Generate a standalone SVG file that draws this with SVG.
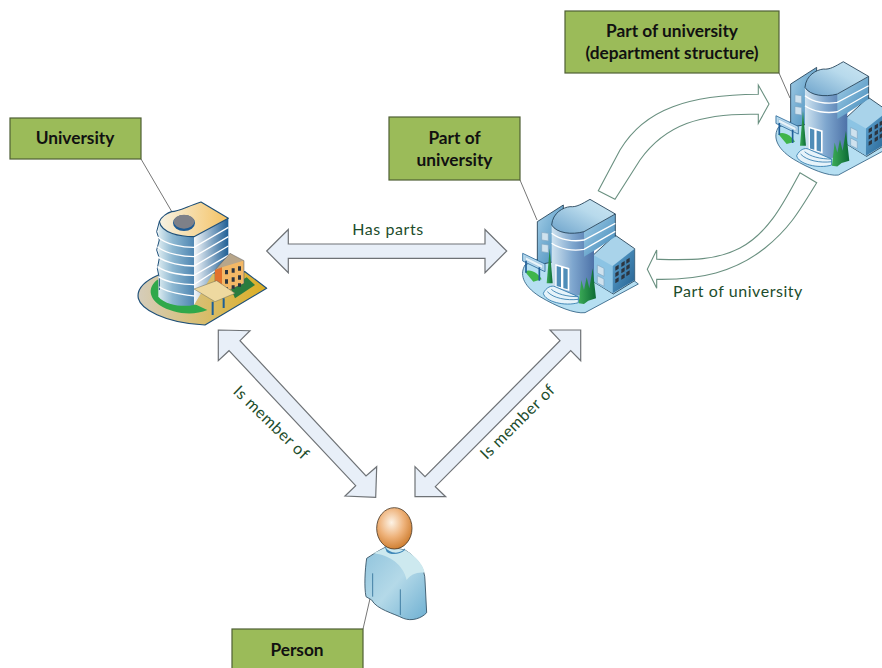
<svg xmlns="http://www.w3.org/2000/svg" width="882" height="668" viewBox="0 0 882 668">
<style>
.box{fill:#9bbb59;stroke:#4f5f35;stroke-width:1.2}
.bl{font:700 17.300px Lato,"Liberation Sans",sans-serif;fill:#111;text-anchor:middle}
.cl{font:400 16px Lato,"Liberation Sans",sans-serif;fill:#1d4d2c;text-anchor:middle;letter-spacing:.55px}
.lead{stroke:#666;stroke-width:.9;fill:none}
.dbl{fill:#e8eff8;stroke:#6e7276;stroke-width:1.2;stroke-linejoin:miter}
.cur{fill:#fff;stroke:#6a9080;stroke-width:1.1}
.wh{fill:none;stroke:#fff;stroke-width:4}
.edge{stroke:#1e4f78;stroke-width:3.500;stroke-linejoin:round}
.edgek{stroke:#223f55;stroke-width:2.600;stroke-linejoin:round}
.dk{fill:#2c3540}
</style>
<defs>
<linearGradient id="gCyl" x1="0" x2="1" y1="0" y2="0"><stop offset="0" stop-color="#dcebf0"/><stop offset=".4" stop-color="#8db8d2"/><stop offset="1" stop-color="#4f86b2"/></linearGradient>
<linearGradient id="gTopU" x1="0" x2="1" y1="0" y2="0"><stop offset="0" stop-color="#f6f2e4"/><stop offset="1" stop-color="#f5c262"/></linearGradient>
<linearGradient id="gFaceU" x1="0" x2="1" y1="0" y2="0"><stop offset="0" stop-color="#f4f7fa"/><stop offset="1" stop-color="#1f5f95"/></linearGradient>
<linearGradient id="gBaseU" x1="0" x2="1" y1="0" y2="0"><stop offset="0" stop-color="#d5cdbb"/><stop offset="1" stop-color="#dcae22"/></linearGradient>
<linearGradient id="gTopB" x1="0" x2="1" y1="1" y2="0"><stop offset="0" stop-color="#6da3cb"/><stop offset=".6" stop-color="#b8daec"/><stop offset="1" stop-color="#cde6f2"/></linearGradient>
<linearGradient id="gCylB" x1="0" x2="1" y1="0" y2="0"><stop offset="0" stop-color="#cfe3f0"/><stop offset=".5" stop-color="#7ea6ce"/><stop offset="1" stop-color="#4d72a8"/></linearGradient>
<linearGradient id="gFaceB" x1="0" x2="1" y1="0" y2="1"><stop offset="0" stop-color="#a6d0e8"/><stop offset="1" stop-color="#3d86b8"/></linearGradient>
<linearGradient id="gWingR" x1="0" x2="1" y1="0" y2="1"><stop offset="0" stop-color="#5fa6d2"/><stop offset="1" stop-color="#235f8f"/></linearGradient>
<linearGradient id="gTree" x1="0" x2="1" y1="0" y2="0"><stop offset="0" stop-color="#3cab57"/><stop offset="1" stop-color="#0b6a35"/></linearGradient>
<radialGradient id="gHead" cx=".42" cy=".36" r=".65"><stop offset="0" stop-color="#fdf3e6"/><stop offset=".55" stop-color="#eeb27a"/><stop offset="1" stop-color="#cf7f32"/></radialGradient>
<linearGradient id="gBody" x1="0" x2="1" y1="0" y2="1"><stop offset="0" stop-color="#8fc3dc"/><stop offset=".5" stop-color="#b4d9e8"/><stop offset="1" stop-color="#6fb0d2"/></linearGradient>
<g id="office">
<path d="M45,225C30,250 35,285 90,320C140,350 195,372 225,368L385,282L330,240L100,200Z" fill="#b6dff2" stroke="#26587c" stroke-width="2.400"/>
<path d="M82,95L160,45L160,210L82,225Z" fill="url(#gFaceB)" class="edgek"/>
<path d="M95,127l20,3v23l-20,-3ZM95,162l20,3v23l-20,-3Z" fill="#cfe2ee" stroke="#7fa6c2" stroke-width="2"/>
<path d="M250,195L315,135L374,176V272L310,312L250,275Z" fill="#a9d3ea" class="edgek"/>
<path d="M250,195L308,228V310L250,275Z" fill="#8cc4e4"/>
<path d="M308,228L373,177V271L308,310Z" fill="url(#gWingR)"/>
<path d="M262,225l20,10v24l-20,-10ZM262,257l20,10v22l-20,-10Z" fill="#cfe2ee" stroke="#7fa6c2" stroke-width="2"/>
<path class="dk" d="M316,230l10,-6v12l-10,6ZM334,219l10,-6v12l-10,6ZM349,209l10,-6v12l-10,6ZM316,249l10,-6v12l-10,6ZM334,238l10,-6v12l-10,6ZM349,228l10,-6v12l-10,6ZM316,268l10,-6v12l-10,6ZM334,257l10,-6v12l-10,6ZM349,247l10,-6v12l-10,6Z"/>
<path d="M125,105V295C155,315 200,322 222,312L252,285V180L222,125Z" fill="url(#gCylB)"/>
<path d="M222,125L316,72V140L252,182L222,200Z" fill="url(#gFaceB)"/>
<path d="M125,105C128,68 160,52 180,50C200,52 215,42 240,28L316,72L222,125C185,135 140,130 125,105Z" fill="url(#gTopB)" class="edgek"/>
<path d="M316,72V140" stroke="#223f55" stroke-width="2.600" fill="none"/>
<path class="wh" d="M125,130C150,150 190,156 222,150L316,100M125,160C150,178 190,184 222,178L316,124"/>
<path d="M136,222L178,234V303L136,290Z" fill="#fff"/>
<path d="M140,228L153,232V292L140,288ZM160,234L173,238V298L160,294Z" fill="#4f8db8"/>
<path d="M100,310C108,292 125,285 135,290L205,320V338C165,350 105,335 100,310Z" fill="#e6f3fa" stroke="#2b78ac" stroke-width="2.500"/>
<path d="M112,305C130,325 170,332 205,328M124,298C140,312 170,320 205,320" fill="none" stroke="#2b78ac" stroke-width="2.500"/>
<path d="M110,280L119,175L128,280Z" fill="url(#gTree)"/>
<path d="M206,340L214,270L222,300L230,262L238,295L248,235L258,325L235,332L222,342Z" fill="url(#gTree)"/>
<path d="M45,245C60,235 85,250 95,268L70,275Z" fill="#3fb54a"/>
<path d="M38,190L105,222V245L38,213Z" fill="#b6d9ee" stroke="#2b6a9a" stroke-width="2.500"/>
<path d="M46,200L98,226V236L46,210Z" fill="#e8f3f9" stroke="#7fb0d0" stroke-width="1.500"/>
<path d="M48,212V248M88,232V272" stroke="#1f5f99" stroke-width="5" fill="none"/>
</g>
</defs>
<rect width="882" height="668" fill="#fff"/>
<g id="connectors">
<path class="lead" d="M141,159L172,212M520,180L537,220M779,73L790,98M363,629L372,590"/>
<path id="has-parts" class="dbl" d="M266.700,251L288.300,229.500V244H485V229.500L506.700,251L485,272.700V258.300H288.300V272.700Z"/>
<path id="member-left" class="dbl" d="M218.300,330L250,330.700L240,340.700L366,476L376.700,466.700L375.700,497.300L345,496L355.700,485.700L229,350.700L218.300,360.700Z"/>
<path id="member-right" class="dbl" d="M580.700,330H550L560,340.700L425,476.700L415,466.700V496.700H445.700L435.300,486.700L570.700,350.700L580.700,360.700Z"/>
<path id="curve-up" class="cur" d="M598.300,190.700L620,150C645,108 690,95 758.300,94.300V85L769,104L758.300,123.300V114.300C700,113 665,125 640,160L615,199.300Z"/>
<path id="curve-down" class="cur" d="M800,172.700C785,200 770,232 740,248C715,261 690,260 656.700,259.300V250L647.300,269.300L656.700,288.300V279.300C700,280 735,272 765,248C790,228 800,210 816.700,182.700Z"/>
<text class="cl" x="388" y="235">Has parts</text>
<text class="cl" x="738" y="297">Part of university</text>
<text class="cl" transform="translate(271,423) rotate(44)" x="0" y="5">Is member of</text>
<text class="cl" transform="translate(518,422) rotate(-45)" x="0" y="5">Is member of</text>
</g>
<g id="node-university">
<rect class="box" x="10" y="118" width="131" height="41"/>
<text class="bl" x="75" y="144">University</text>
<g transform="translate(120,190) scale(.33333)">
<path d="M115,255C70,275 50,300 55,325C62,355 130,400 255,405L440,295L375,245Z" fill="url(#gBaseU)" class="edge"/>
<path d="M115,268C88,285 80,318 118,345C160,372 220,378 262,360L230,345L130,330Z" fill="#2fa84a"/>
<path d="M345,325L405,285L380,262L330,290Z" fill="#2a7c3e"/>
<path d="M115,100V320C135,345 190,352 222,345V140Z" fill="url(#gCyl)"/>
<path d="M222,140L325,85V210L285,240L222,345Z" fill="url(#gFaceU)"/>
<path d="M118,95C125,78 145,68 155,65C175,65 200,50 243,36L325,85L222,140C180,140 125,130 118,95Z" fill="url(#gTopU)" class="edge"/>
<path d="M118,95L110,125L118,150L110,180L118,205L112,235L118,265V300" fill="none" stroke="#1e4f78" stroke-width="3"/>
<ellipse cx="192" cy="99" rx="33" ry="24" fill="#1d5a94"/>
<ellipse cx="192" cy="95" rx="31" ry="21" fill="#7e8088"/>
<path class="wh" d="M112,140C140,165 190,172 222,172L325,112M112,170C140,192 190,200 222,200L325,140M112,200C140,220 190,228 222,228L325,168M112,230C140,250 190,256 222,256L325,196M115,260C140,278 190,284 222,284L290,240M118,290C140,308 190,314 222,318"/>
<path d="M285,240L330,190L372,212V280L320,303L285,285Z" fill="#b8a68a" stroke="#5a5a5a" stroke-width="1.500"/>
<path d="M285,240L306,232V296L285,282Z" fill="#e2702c"/>
<path d="M306,232L370,212V280L318,302L306,296Z" fill="#f3b866"/>
<path class="dk" d="M315,240h9v13h-9ZM335,235h9v13h-9ZM354,229h9v13h-9ZM315,268h9v13h-9ZM335,262h9v13h-9ZM354,256h9v13h-9ZM315,292h9v10h-9ZM335,286h9v10h-9ZM354,280h9v10h-9Z"/>
<path d="M222,297L290,272L345,310L285,335Z" fill="#eed9a0" stroke="#6b6b5b" stroke-width="1.500"/>
<path d="M278,335V375M311,325V354" stroke="#1e5f96" stroke-width="6"/>
</g>
</g>
<g id="node-part">
<rect class="box" x="389" y="117" width="131" height="63"/>
<text class="bl" x="454.500" y="144">Part of</text>
<text class="bl" x="454.500" y="166">university</text>
<use href="#office" transform="translate(510,190) scale(.33333)"/>
</g>
<g id="node-department">
<rect class="box" x="565" y="11" width="214" height="62"/>
<text class="bl" x="672" y="37">Part of university</text>
<text class="bl" x="672" y="59">(department structure)</text>
<use href="#office" transform="translate(763.300,52.400) scale(.33333)"/>
</g>
<g id="node-person">
<rect class="box" x="232" y="629" width="131" height="50"/>
<text class="bl" x="297" y="656">Person</text>
<g transform="translate(230,490) scale(.33333)">
<path d="M410,205C440,185 465,172 470,170L525,180C565,205 585,240 585,270L590,368C575,385 545,395 520,385C490,370 440,358 425,330L408,320C402,290 405,240 410,205Z" fill="url(#gBody)" stroke="#2e4a5e" stroke-width="2.500"/>
<path d="M470,172L525,180C560,200 580,225 584,248C560,245 540,255 530,270C520,225 480,195 430,190Z" fill="#cde9ef"/>
<path d="M428,250V320M511,298V375" stroke="#2f6f96" stroke-width="2.500" fill="none"/>
<path d="M462,165C475,192 510,195 525,175V180C510,195 480,195 470,185Z" fill="#3f88b8"/>
<ellipse cx="493" cy="115" rx="53" ry="62" fill="url(#gHead)" stroke="#4a3a28" stroke-width="2.500"/>
</g>
</g>
</svg>
